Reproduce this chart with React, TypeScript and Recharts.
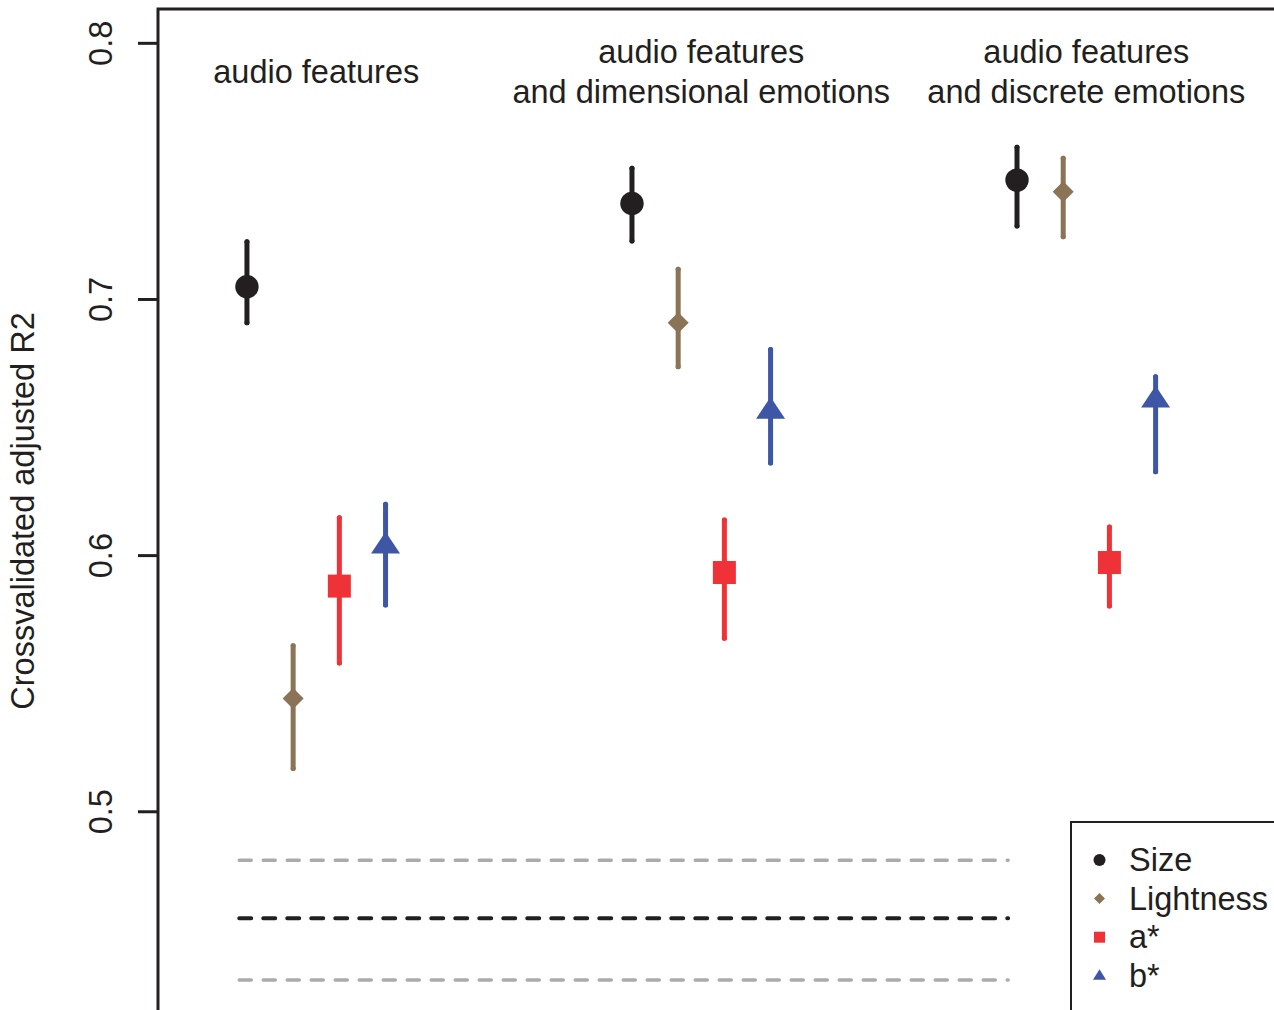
import React from 'react';
import {
  ComposedChart,
  Scatter,
  ErrorBar,
  XAxis,
  YAxis,
  ReferenceLine,
  ReferenceArea,
  ReferenceDot,
  Legend,
} from 'recharts';

// ---------- data ----------
const groupPositions = [1, 2, 3];
const groupLabels: string[][] = [
  ['audio features'],
  ['audio features', 'and dimensional emotions'],
  ['audio features', 'and discrete emotions'],
];
const seriesNames = ['Size', 'Lightness', 'a*', 'b*'];
const seriesOffsets = [0, 0.12, 0.24, 0.36];

const sizeMean = [0.705, 0.7375, 0.7466];
const sizeLow = [0.6909, 0.7228, 0.7287];
const sizeHigh = [0.7225, 0.7512, 0.7594];

const lightMean = [0.5442, 0.6909, 0.7421];
const lightLow = [0.5169, 0.6737, 0.7245];
const lightHigh = [0.5648, 0.7118, 0.7551];

const aMean = [0.5881, 0.5934, 0.5973];
const aLow = [0.5581, 0.5677, 0.5803];
const aHigh = [0.6148, 0.6139, 0.6112];

const bMean = [0.6037, 0.6563, 0.6607];
const bLow = [0.5807, 0.6362, 0.6327];
const bHigh = [0.6201, 0.6805, 0.6698];

const baselineMid = 0.4584;
const baselineLow = 0.4343;
const baselineHigh = 0.4811;
const baselineStart = 0.98;
const baselineEnd = 2.977;

const yTicks = [0.5, 0.6, 0.7, 0.8];
const yDomain: [number, number] = [0.4148, 0.8134];
const xDomain: [number, number] = [0.769, 3.735];
const yTitle = 'Crossvalidated adjusted R2';

// ---------- styles ----------
const FONT = "'Liberation Sans', Arial, Helvetica, sans-serif";
const FS = 32.5;
const INK = '#231F20';
const COLORS = ['#231F20', '#8B7356', '#EE3237', '#3E56A6'];

const buildRows = (si: number, mean: number[], low: number[], high: number[]) =>
  groupPositions.map((g, i) => ({
    x: g + seriesOffsets[si],
    y: mean[i],
    err: [mean[i] - low[i], high[i] - mean[i]],
  }));

const sizeRows = buildRows(0, sizeMean, sizeLow, sizeHigh);
const lightRows = buildRows(1, lightMean, lightLow, lightHigh);
const aRows = buildRows(2, aMean, aLow, aHigh);
const bRows = buildRows(3, bMean, bLow, bHigh);

// ---------- shapes ----------
const CircleShape = (p: any) => <circle cx={p.cx} cy={p.cy} r={11.7} fill={COLORS[0]} />;
const DiamondShape = (p: any) => {
  const h = 10.5;
  return (
    <polygon
      points={`${p.cx},${p.cy - h} ${p.cx + h},${p.cy} ${p.cx},${p.cy + h} ${p.cx - h},${p.cy}`}
      fill={COLORS[1]}
    />
  );
};
const SquareShape = (p: any) => (
  <rect x={p.cx - 11.5} y={p.cy - 11.5} width={23} height={23} fill={COLORS[2]} />
);
const TriangleShape = (p: any) => (
  <polygon
    points={`${p.cx},${p.cy - 14.5} ${p.cx + 14.5},${p.cy + 7.3} ${p.cx - 14.5},${p.cy + 7.3}`}
    fill={COLORS[3]}
  />
);

const YTick = (p: any) => {
  const { x, y, payload } = p;
  return (
    <text
      transform={`translate(${x - 24}, ${y}) rotate(-90)`}
      textAnchor="middle"
      fontSize={FS}
      fontFamily={FONT}
      fill={INK}
    >
      {String(payload.value)}
    </text>
  );
};

const YTitle = (p: any) => {
  const vb = p.viewBox || { x: 0, y: 0, height: 1000 };
  return (
    <text
      transform={`translate(33.5, ${vb.y + 502}) rotate(-90)`}
      textAnchor="middle"
      fontSize={FS}
      fontFamily={FONT}
      fill={INK}
    >
      {yTitle}
    </text>
  );
};

const makeGroupLabel = (lines: string[]) => (p: any) => {
  const n = lines.length;
  return (
    <g>
      {lines.map((t, i) => (
        <text
          key={i}
          x={p.cx}
          y={p.cy + 74 + (i - (n - 1) / 2) * 40}
          textAnchor="middle"
          fontSize={FS}
          fontFamily={FONT}
          fill={INK}
        >
          {t}
        </text>
      ))}
    </g>
  );
};

const legendSymbol = (i: number, cx: number, cy: number) => {
  if (i === 0) return <circle cx={cx} cy={cy} r={6} fill={COLORS[0]} />;
  if (i === 1)
    return (
      <polygon
        points={`${cx},${cy - 5.5} ${cx + 5.5},${cy} ${cx},${cy + 5.5} ${cx - 5.5},${cy}`}
        fill={COLORS[1]}
      />
    );
  if (i === 2) return <rect x={cx - 5.5} y={cy - 5.5} width={11} height={11} fill={COLORS[2]} />;
  return (
    <polygon
      points={`${cx},${cy - 6.5} ${cx + 6.5},${cy + 4} ${cx - 6.5},${cy + 4}`}
      fill={COLORS[3]}
    />
  );
};

const LegendContent = () => (
  <div
    style={{
      width: 300,
      height: 260,
      border: `2px solid ${INK}`,
      boxSizing: 'border-box',
      background: '#fff',
    }}
  >
    <svg width={296} height={256} style={{ display: 'block' }}>
      {seriesNames.map((name, i) => {
        const cy = 37 + i * 38.6;
        return (
          <g key={name}>
            {legendSymbol(i, 27.5, cy)}
            <text x={57} y={cy + 11} fontSize={FS} fontFamily={FONT} fill={INK}>
              {name}
            </text>
          </g>
        );
      })}
    </svg>
  </div>
);

const EB_W = 5;

export default function App() {
  return (
    <div
      style={{
        position: 'absolute',
        left: 0,
        top: 0,
        width: 1274,
        height: 1010,
        overflow: 'hidden',
        background: '#fff',
      }}
    >
      <ComposedChart
        width={1310}
        height={1040}
        margin={{ top: 9, right: 10, bottom: 10, left: 0 }}
      >
        <XAxis type="number" dataKey="x" domain={xDomain} allowDataOverflow hide />
        <YAxis
          type="number"
          dataKey="y"
          domain={yDomain}
          allowDataOverflow
          ticks={yTicks}
          width={158}
          tickSize={20}
          axisLine={false}
          tickLine={{ stroke: INK, strokeWidth: 3 }}
          tick={<YTick />}
          label={<YTitle />}
        />
        <ReferenceArea
          x1={xDomain[0]}
          x2={xDomain[1]}
          y1={yDomain[0]}
          y2={yDomain[1]}
          fill="none"
          fillOpacity={0}
          stroke={INK}
          strokeWidth={3}
          ifOverflow="visible"
        />
        <ReferenceLine
          segment={[{ x: baselineStart, y: baselineHigh }, { x: baselineEnd, y: baselineHigh }]}
          stroke="#AAAAAA"
          strokeWidth={3.5}
          strokeDasharray="12 12"
          strokeLinecap="round"
        />
        <ReferenceLine
          segment={[{ x: baselineStart, y: baselineMid }, { x: baselineEnd, y: baselineMid }]}
          stroke={INK}
          strokeWidth={4}
          strokeDasharray="12 12"
          strokeLinecap="round"
        />
        <ReferenceLine
          segment={[{ x: baselineStart, y: baselineLow }, { x: baselineEnd, y: baselineLow }]}
          stroke="#AAAAAA"
          strokeWidth={3.5}
          strokeDasharray="12 12"
          strokeLinecap="round"
        />
        {groupPositions.map((g, i) => (
          <ReferenceDot
            key={`lbl${i}`}
            x={g + 0.18}
            y={yDomain[1]}
            r={0}
            ifOverflow="visible"
            shape={makeGroupLabel(groupLabels[i])}
          />
        ))}
        <Scatter name={seriesNames[0]} data={sizeRows} shape={<CircleShape />} isAnimationActive={false}>
          <ErrorBar dataKey="err" direction="y" width={0} stroke={COLORS[0]} strokeWidth={EB_W} strokeLinecap="round" isAnimationActive={false} />
        </Scatter>
        <Scatter name={seriesNames[1]} data={lightRows} shape={<DiamondShape />} isAnimationActive={false}>
          <ErrorBar dataKey="err" direction="y" width={0} stroke={COLORS[1]} strokeWidth={EB_W} strokeLinecap="round" isAnimationActive={false} />
        </Scatter>
        <Scatter name={seriesNames[2]} data={aRows} shape={<SquareShape />} isAnimationActive={false}>
          <ErrorBar dataKey="err" direction="y" width={0} stroke={COLORS[2]} strokeWidth={EB_W} strokeLinecap="round" isAnimationActive={false} />
        </Scatter>
        <Scatter name={seriesNames[3]} data={bRows} shape={<TriangleShape />} isAnimationActive={false}>
          <ErrorBar dataKey="err" direction="y" width={0} stroke={COLORS[3]} strokeWidth={EB_W} strokeLinecap="round" isAnimationActive={false} />
        </Scatter>
        <Legend
          layout="horizontal"
          verticalAlign="middle"
          align="center"
          content={<LegendContent />}
          wrapperStyle={{ position: 'absolute', left: 1070, top: 821, width: 300, height: 260 }}
        />
      </ComposedChart>
    </div>
  );
}
